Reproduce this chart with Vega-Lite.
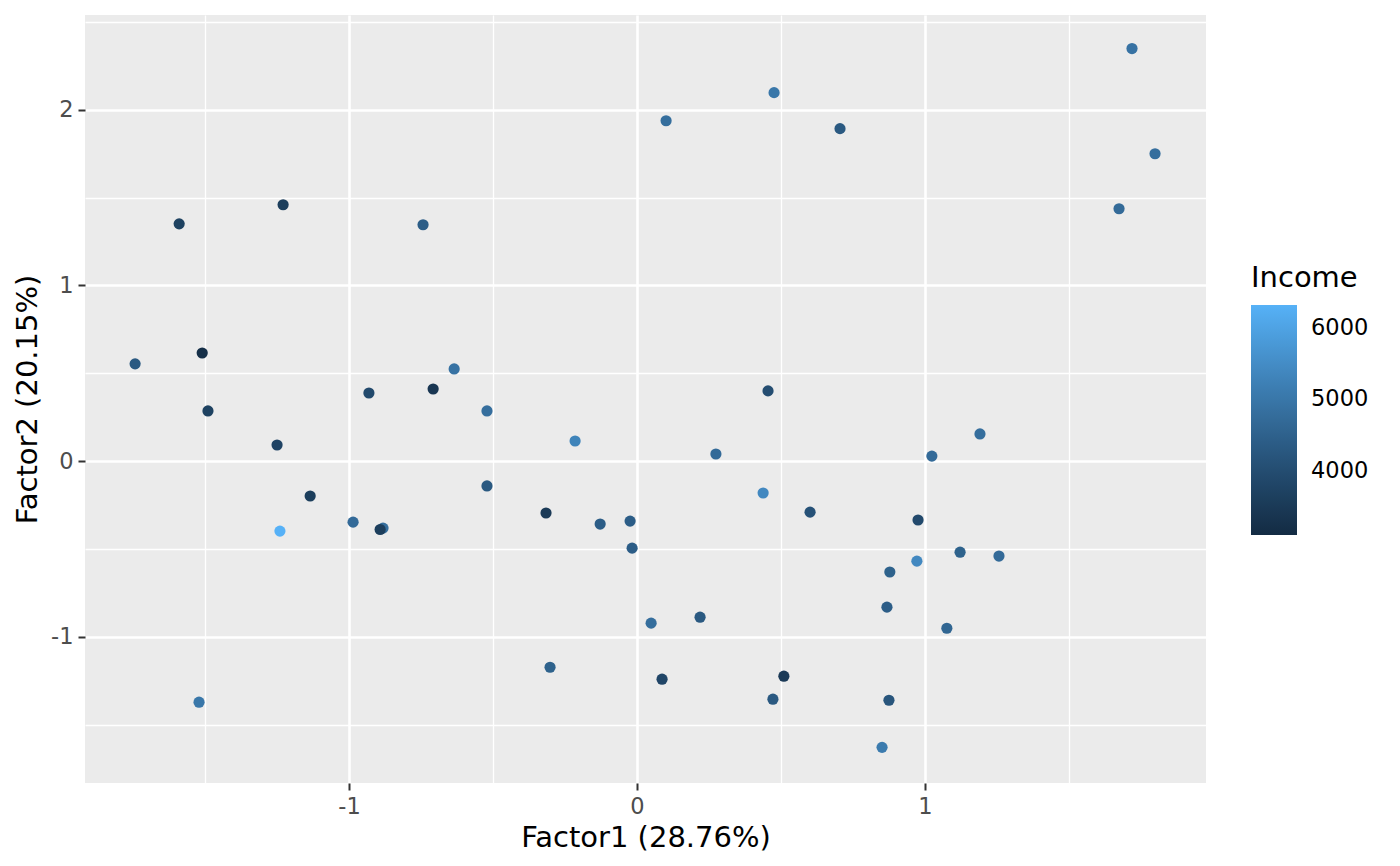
{
  "$schema": "https://vega.github.io/schema/vega-lite/v6.json",
  "width": 1121,
  "height": 768,
  "autosize": {"type": "none"},
  "padding": {"left": 85, "top": 15, "right": 194, "bottom": 83},
  "background": "white",
  "data": {
    "values": [
      {"Factor1": 1.719, "Factor2": 2.348, "Income": 4900},
      {"Factor1": 1.799, "Factor2": 1.749, "Income": 4800},
      {"Factor1": 1.674, "Factor2": 1.436, "Income": 4700},
      {"Factor1": 0.476, "Factor2": 2.097, "Income": 5000},
      {"Factor1": 0.101, "Factor2": 1.937, "Income": 4800},
      {"Factor1": 0.705, "Factor2": 1.892, "Income": 4300},
      {"Factor1": -1.229, "Factor2": 1.459, "Income": 3600},
      {"Factor1": -1.590, "Factor2": 1.350, "Income": 3700},
      {"Factor1": -0.743, "Factor2": 1.345, "Income": 4400},
      {"Factor1": -1.743, "Factor2": 0.553, "Income": 4300},
      {"Factor1": -1.510, "Factor2": 0.615, "Income": 3200},
      {"Factor1": -1.490, "Factor2": 0.285, "Income": 3700},
      {"Factor1": -0.635, "Factor2": 0.524, "Income": 4900},
      {"Factor1": -0.931, "Factor2": 0.387, "Income": 3900},
      {"Factor1": -0.708, "Factor2": 0.410, "Income": 3400},
      {"Factor1": -0.521, "Factor2": 0.285, "Income": 4800},
      {"Factor1": -1.250, "Factor2": 0.091, "Income": 3750},
      {"Factor1": -0.215, "Factor2": 0.114, "Income": 5300},
      {"Factor1": 0.455, "Factor2": 0.399, "Income": 4000},
      {"Factor1": 0.274, "Factor2": 0.040, "Income": 4700},
      {"Factor1": 0.438, "Factor2": -0.182, "Income": 5400},
      {"Factor1": 0.601, "Factor2": -0.291, "Income": 4100},
      {"Factor1": 1.024, "Factor2": 0.028, "Income": 4700},
      {"Factor1": 1.191, "Factor2": 0.154, "Income": 4800},
      {"Factor1": 0.976, "Factor2": -0.336, "Income": 3900},
      {"Factor1": 0.972, "Factor2": -0.570, "Income": 5400},
      {"Factor1": 1.122, "Factor2": -0.519, "Income": 4500},
      {"Factor1": 1.257, "Factor2": -0.541, "Income": 4700},
      {"Factor1": 0.878, "Factor2": -0.632, "Income": 4500},
      {"Factor1": 0.868, "Factor2": -0.832, "Income": 4400},
      {"Factor1": 1.076, "Factor2": -0.952, "Income": 4600},
      {"Factor1": 0.875, "Factor2": -1.362, "Income": 4200},
      {"Factor1": 0.851, "Factor2": -1.630, "Income": 5100},
      {"Factor1": 0.510, "Factor2": -1.225, "Income": 3500},
      {"Factor1": 0.472, "Factor2": -1.356, "Income": 4300},
      {"Factor1": 0.087, "Factor2": -1.242, "Income": 3800},
      {"Factor1": 0.219, "Factor2": -0.889, "Income": 4300},
      {"Factor1": 0.049, "Factor2": -0.923, "Income": 4800},
      {"Factor1": -0.017, "Factor2": -0.496, "Income": 4400},
      {"Factor1": -0.024, "Factor2": -0.342, "Income": 4400},
      {"Factor1": -0.128, "Factor2": -0.359, "Income": 4400},
      {"Factor1": -0.316, "Factor2": -0.296, "Income": 3500},
      {"Factor1": -0.521, "Factor2": -0.142, "Income": 4300},
      {"Factor1": -0.302, "Factor2": -1.174, "Income": 4500},
      {"Factor1": -0.882, "Factor2": -0.382, "Income": 4800},
      {"Factor1": -0.892, "Factor2": -0.390, "Income": 3600},
      {"Factor1": -0.986, "Factor2": -0.348, "Income": 4700},
      {"Factor1": -1.135, "Factor2": -0.199, "Income": 3600},
      {"Factor1": -1.240, "Factor2": -0.399, "Income": 6315},
      {"Factor1": -1.521, "Factor2": -1.373, "Income": 5000}
    ]
  },
  "mark": {"type": "point", "filled": true, "opacity": 1, "size": 125, "strokeWidth": 0},
  "encoding": {
    "x": {
      "field": "Factor1",
      "type": "quantitative",
      "title": "Factor1 (28.76%)",
      "scale": {"domain": [-1.917, 1.976], "nice": false, "zero": false},
      "axis": {
        "values": [-1.5, -1, -0.5, 0, 0.5, 1, 1.5],
        "labelExpr": "datum.value % 1 === 0 ? '' + datum.value : ''",
        "gridWidth": {"condition": {"test": "datum.value % 1 === 0", "value": 2.6}, "value": 1.3},
        "tickOpacity": {"condition": {"test": "datum.value % 1 === 0", "value": 1}, "value": 0},
        "titlePadding": 6
      }
    },
    "y": {
      "field": "Factor2",
      "type": "quantitative",
      "title": "Factor2 (20.15%)",
      "scale": {"domain": [-1.833, 2.539], "nice": false, "zero": false},
      "axis": {
        "values": [-1.5, -1, -0.5, 0, 0.5, 1, 1.5, 2, 2.5],
        "labelExpr": "datum.value % 1 === 0 ? '' + datum.value : ''",
        "gridWidth": {"condition": {"test": "datum.value % 1 === 0", "value": 2.6}, "value": 1.3},
        "tickOpacity": {"condition": {"test": "datum.value % 1 === 0", "value": 1}, "value": 0},
        "titlePadding": 8
      }
    },
    "color": {
      "field": "Income",
      "type": "quantitative",
      "title": "Income",
      "scale": {"domain": [3098, 6315], "range": ["#132B43", "#56B1F7"], "interpolate": "lab"},
      "legend": {
        "orient": "none",
        "legendX": 1166,
        "legendY": 249,
        "direction": "vertical",
        "gradientLength": 230,
        "gradientThickness": 46,
        "gradientStrokeWidth": 0,
        "values": [4000, 5000, 6000],
        "format": "d",
        "labelOffset": 14,
        "labelFontSize": 22.5,
        "labelColor": "black",
        "titleFontSize": 29,
        "titleFontWeight": "normal",
        "titleColor": "black",
        "titlePadding": 12,
        "padding": 0
      }
    }
  },
  "config": {
    "font": "DejaVu Sans",
    "view": {"fill": "#EBEBEB", "stroke": null},
    "axis": {
      "domain": false,
      "gridColor": "white",
      "gridOpacity": 1,
      "tickColor": "#333333",
      "tickSize": 7,
      "tickWidth": 2,
      "labelFontSize": 22.5,
      "labelColor": "#4D4D4D",
      "labelPadding": 5,
      "titleFontSize": 29,
      "titleFontWeight": "normal",
      "titleColor": "black"
    }
  }
}
